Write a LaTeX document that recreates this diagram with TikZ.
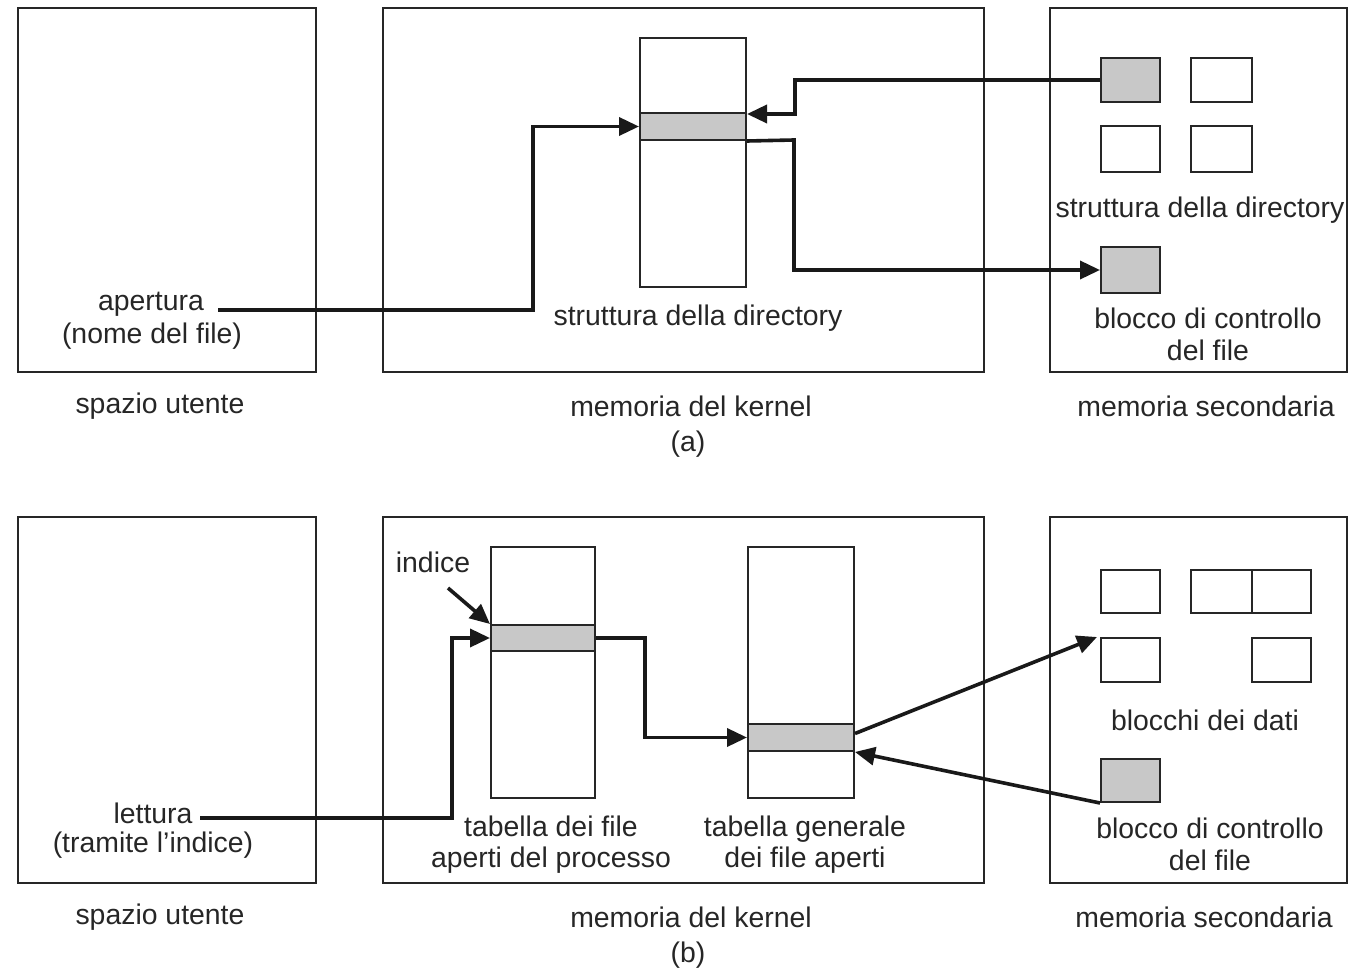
\documentclass[tikz,border=0pt]{standalone}
\usepackage{fontspec}
\setmainfont{Liberation Sans}
\usetikzlibrary{arrows.meta}
\definecolor{cellgray}{RGB}{200,200,200}
\begin{document}
\begin{tikzpicture}[x=1pt,y=-1pt,
  box/.style={draw=black!85,line width=2pt,inner sep=0pt,rectangle},
  panel/.style={draw=black!85,line width=2pt,inner sep=0pt,rectangle},
  cell/.style={draw=black!85,line width=2pt,inner sep=0pt,rectangle,fill=cellgray},
  blk/.style={draw=black!85,line width=2pt,inner sep=0pt,rectangle,fill=white},
  gblk/.style={draw=black!85,line width=2pt,inner sep=0pt,rectangle,fill=cellgray},
  conn/.style={draw=black!90,line width=3.6pt,-{Triangle[length=20pt,width=18pt]}},
  lbl/.style={font=\fontsize{28.4}{32}\selectfont,inner sep=0pt,align=center,text=black!85,yshift=-2.5pt},
]
\useasboundingbox (0,0) rectangle (1349,968);

% ---------- panel (a) ----------
\node[panel,minimum width=298pt,minimum height=364pt] (ua) at (167,190) {};
\node[panel,minimum width=601pt,minimum height=364pt] (ka) at (683.5,190) {};
\node[panel,minimum width=297pt,minimum height=364pt] (sa) at (1198.5,190) {};

\node[lbl] (ua-l) at (160,404) {spazio utente};
\node[lbl] (ka-l) at (691,404) {memoria del kernel};
\node[lbl] (sa-l) at (1206,404) {memoria secondaria};
\node[lbl] (capa) at (688,442) {(a)};

\node[box,minimum width=106pt,minimum height=249pt] (dcol) at (693,162.5) {};
\node[cell,minimum width=106pt,minimum height=27pt] (drow) at (693,126.5) {};
\node[lbl] (dcol-l) at (698,316) {struttura della directory};

\node[lbl] (ap1) at (151,302) {apertura};
\node[lbl] (ap2) at (152,334) {(nome del file)};
\coordinate (apx) at (218,310);

\node[gblk,minimum width=59pt,minimum height=44pt] (sg1) at (1130.5,80) {};
\node[blk,minimum width=61pt,minimum height=44pt] (sb2) at (1221.5,80) {};
\node[blk,minimum width=59pt,minimum height=46pt] (sb3) at (1130.5,149) {};
\node[blk,minimum width=61pt,minimum height=46pt] (sb4) at (1221.5,149) {};
\node[lbl] (sdir-l) at (1200,208) {struttura della directory};
\node[gblk,minimum width=59pt,minimum height=46pt] (sg2) at (1130.5,270) {};
\node[lbl] (fcb-a) at (1208,332) {blocco di controllo\\[-0.5pt]del file};

\draw[conn] (apx) -- (533,310) |- (drow.west);
\draw[conn] (sg1.west) -- (795,80) |- ([yshift=-2pt]drow.north east);
\draw[conn] (drow.south east) -- (794,140) |- (sg2.west);

% ---------- panel (b) ----------
\node[panel,minimum width=298pt,minimum height=366pt] (ub) at (167,700) {};
\node[panel,minimum width=601pt,minimum height=366pt] (kb) at (683.5,700) {};
\node[panel,minimum width=297pt,minimum height=366pt] (sb) at (1198.5,700) {};

\node[lbl] (ub-l) at (160,915) {spazio utente};
\node[lbl] (kb-l) at (691,915) {memoria del kernel};
\node[lbl] (sb-l) at (1204,915) {memoria secondaria};
\node[lbl] (capb) at (688,953) {(b)};

\node[box,minimum width=104pt,minimum height=251pt] (c1) at (543,672.5) {};
\node[cell,minimum width=104pt,minimum height=26pt] (r1) at (543,638) {};
\node[box,minimum width=106pt,minimum height=251pt] (c2) at (801,672.5) {};
\node[cell,minimum width=106pt,minimum height=27pt] (r2) at (801,737.5) {};

\node[lbl] (c1-l) at (551,842) {tabella dei file\\[-0.5pt]aperti del processo};
\node[lbl] (c2-l) at (805,842) {tabella generale\\[-0.5pt]dei file aperti};

\node[lbl] (ind) at (433,560) {indice};
\coordinate (indx) at (448,588);

\node[lbl] (le1) at (153,811) {lettura};
\node[lbl] (le2) at (153,843) {(tramite l’indice)};
\coordinate (lex) at (200,818);

\node[blk,minimum width=59pt,minimum height=43pt] (d1) at (1130.5,591.5) {};
\node[blk,minimum width=61pt,minimum height=43pt] (d2) at (1221.5,591.5) {};
\node[blk,minimum width=59pt,minimum height=43pt] (d2b) at (1281.5,591.5) {};
\node[blk,minimum width=59pt,minimum height=44pt] (d3) at (1130.5,660) {};
\node[blk,minimum width=59pt,minimum height=44pt] (d4) at (1281.5,660) {};
\node[lbl] (dat-l) at (1205,718) {blocchi dei dati};
\node[gblk,minimum width=59pt,minimum height=43pt] (fcb) at (1130.5,780.5) {};
\node[lbl] (fcb-b) at (1210,842) {blocco di controllo\\[-0.5pt]del file};

\draw[conn] (indx) -- (r1.north west);
\draw[conn] (lex) -- (452,818) |- (r1.west);
\draw[conn] (r1.east) -- (645,638) |- (r2.west);
\draw[conn] ([yshift=4pt]r2.east) -- ([xshift=-3pt]d3.north west);
\draw[conn] (fcb.south west) -- (r2.south east);
\end{tikzpicture}
\end{document}
